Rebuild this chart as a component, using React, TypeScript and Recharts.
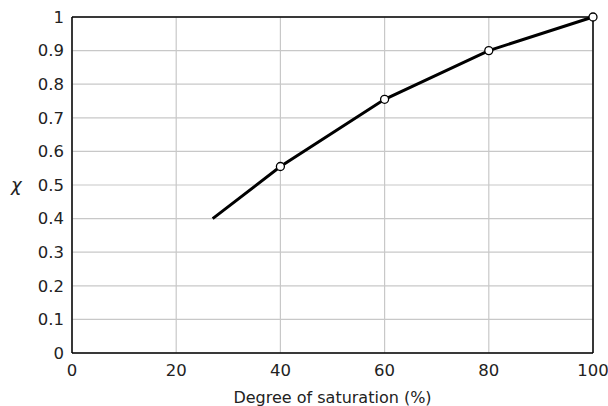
import { CartesianGrid, Line, LineChart, ReferenceLine, XAxis, YAxis } from "recharts";

const saturation = [27, 40, 60, 80, 100];
const chi = [0.4, 0.555, 0.755, 0.9, 1.0];
const hasMarker = [false, true, true, true, true];

const xTicks = [0, 20, 40, 60, 80, 100];
const yTicks = [0, 0.1, 0.2, 0.3, 0.4, 0.5, 0.6, 0.7, 0.8, 0.9, 1];

const data = saturation.map((s, i) => ({ s, chi: chi[i], marker: hasMarker[i] }));

const font = "DejaVu Sans";

const renderDot = (props: any) => {
  const { cx, cy, payload, index } = props;
  if (!payload.marker) return <g key={`d${index}`} />;
  return <circle key={`d${index}`} cx={cx} cy={cy} r={4} fill="#fff" stroke="#000" strokeWidth={1.3} />;
};

export default function App() {
  return (
    <div style={{ position: "absolute", left: 0, top: 0, background: "#fff" }}>
      <LineChart
        width={608}
        height={406}
        data={data}
        margin={{ top: 17, right: 15, bottom: 0, left: 0 }}
      >
        <CartesianGrid stroke="#c8c8c8" strokeWidth={1.2} />
        <XAxis
          dataKey="s"
          type="number"
          domain={[0, 100]}
          ticks={xTicks}
          height={53}
          tickLine={false}
          tickSize={0}
          tickMargin={11}
          axisLine={{ stroke: "#000", strokeWidth: 1.5 }}
          tick={{ fill: "#222", fontSize: 16.5, fontFamily: font }}
          label={{
            value: "Degree of saturation (%)",
            position: "insideBottom",
            offset: 3,
            fill: "#222",
            fontSize: 16,
            fontFamily: font,
          }}
        />
        <YAxis
          type="number"
          domain={[0, 1]}
          ticks={yTicks}
          width={72}
          tickLine={false}
          tickSize={0}
          tickMargin={8}
          axisLine={{ stroke: "#000", strokeWidth: 1.5 }}
          tick={{ fill: "#222", fontSize: 16.5, fontFamily: font }}
          label={{
            value: "χ",
            position: "insideLeft",
            offset: 11,
            angle: 0,
            fill: "#222",
            fontSize: 18,
            fontStyle: "italic",
            fontFamily: font,
          }}
        />
        <ReferenceLine y={1} stroke="#000" strokeWidth={1.5} />
        <ReferenceLine x={100} stroke="#000" strokeWidth={1.5} />
        <Line
          dataKey="chi"
          stroke="#000"
          strokeWidth={3}
          dot={renderDot}
          activeDot={false}
          isAnimationActive={false}
        />
      </LineChart>
    </div>
  );
}
